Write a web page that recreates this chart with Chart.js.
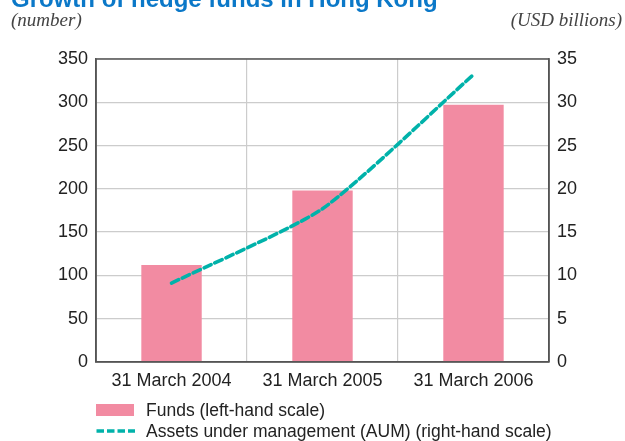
<!DOCTYPE html>
<html>
<head>
<meta charset="utf-8">
<script src="https://cdn.jsdelivr.net/npm/chart.js@4"></script>
<style>
  html, body { margin: 0; padding: 0; background: #fff; }
  #wrap { position: relative; width: 625px; height: 441px; overflow: hidden; }
  #c { position: absolute; left: 0; top: 0; }
  .t { position: absolute; white-space: nowrap; }
  #title { left: 11px; top: -13px; font: bold 24px/24px "Liberation Sans", Arial, sans-serif; color: #0b78c8; }
  #subL { left: 11px; top: 9.6px; font: italic 19px/19px "Liberation Serif", "Times New Roman", serif; color: #444; }
  #subR { right: 3px; top: 9.6px; font: italic 19px/19px "Liberation Serif", "Times New Roman", serif; color: #444; }
  .lg { position: absolute; left: 146px; font: 17.5px/20px "Liberation Sans", Arial, sans-serif; color: #222; white-space: nowrap; }
  #sw1 { position: absolute; left: 96px; top: 404px; width: 38px; height: 12px; background: #f28ba2; }
  #sw2 { position: absolute; left: 96px; top: 427px; }
</style>
</head>
<body>
<div id="wrap">
  <canvas id="c" width="625" height="441"></canvas>
  <div class="t" id="title">Growth of hedge funds in Hong Kong</div>
  <div class="t" id="subL">(number)</div>
  <div class="t" id="subR">(USD billions)</div>
  <div id="sw1"></div>
  <div class="lg" style="top:400px">Funds (left-hand scale)</div>
  <svg id="sw2" width="40" height="8"><line x1="0.5" y1="4" x2="39" y2="4" stroke="#00b2aa" stroke-width="3.6" stroke-dasharray="7.5 3"/></svg>
  <div class="lg" style="top:421px">Assets under management (AUM) (right-hand scale)</div>
</div>
<script>
const categories = ["31 March 2004", "31 March 2005", "31 March 2006"];
const fundsCount = [112, 198, 297];
const aumUSDbn = [9.1, 17.7, 33.2];
const leftTicks = [0, 50, 100, 150, 200, 250, 300, 350];
const rightTicks = [0, 5, 10, 15, 20, 25, 30, 35];

const frame = {
  id: 'frame',
  afterDraw(chart) {
    const a = chart.chartArea, ctx = chart.ctx;
    ctx.save();
    ctx.strokeStyle = '#555';
    ctx.lineWidth = 1.5;
    ctx.strokeRect(a.left, a.top, a.right - a.left, a.bottom - a.top);
    ctx.restore();
  }
};

const tickFont = { family: '"Liberation Sans", Arial, sans-serif', size: 18 };

new Chart(document.getElementById('c'), {
  type: 'bar',
  data: {
    labels: categories,
    datasets: [
      {
        type: 'line',
        label: 'Assets under management (AUM) (right-hand scale)',
        data: aumUSDbn,
        yAxisID: 'y1',
        borderColor: '#00b2aa',
        borderWidth: 3.6,
        borderDash: [8, 4],
        borderCapStyle: 'round',
        tension: 0.2,
        pointRadius: 0,
        fill: false,
        order: 0
      },
      {
        type: 'bar',
        label: 'Funds (left-hand scale)',
        data: fundsCount,
        yAxisID: 'y',
        backgroundColor: '#f28ba2',
        borderWidth: 0,
        categoryPercentage: 1.0,
        barPercentage: 0.4,
        order: 1
      }
    ]
  },
  options: {
    responsive: false,
    animation: false,
    layout: { padding: { left: 50, right: 40, top: 59, bottom: 41.5 } },
    plugins: { legend: { display: false }, tooltip: { enabled: false }, title: { display: false } },
    scales: {
      x: {
        offset: true,
        grid: { offset: true, color: '#cccccc', lineWidth: 1.2, drawTicks: false },
        border: { display: true, color: '#555', width: 1.5 },
        ticks: { color: '#222', font: tickFont, padding: 8, maxRotation: 0 }
      },
      y: {
        position: 'left',
        min: 0, max: 350,
        afterBuildTicks(s) { s.ticks = leftTicks.map(v => ({ value: v })); },
        grid: { color: '#cccccc', lineWidth: 1.2, drawTicks: false },
        border: { display: true, color: '#555', width: 1.5 },
        ticks: { color: '#222', font: tickFont, padding: 8 }
      },
      y1: {
        position: 'right',
        min: 0, max: 35,
        afterBuildTicks(s) { s.ticks = rightTicks.map(v => ({ value: v })); },
        grid: { drawOnChartArea: false, drawTicks: false },
        border: { display: true, color: '#555', width: 1.5 },
        ticks: { color: '#222', font: tickFont, padding: 8 }
      }
    }
  },
  plugins: [frame]
});
</script>
</body>
</html>
